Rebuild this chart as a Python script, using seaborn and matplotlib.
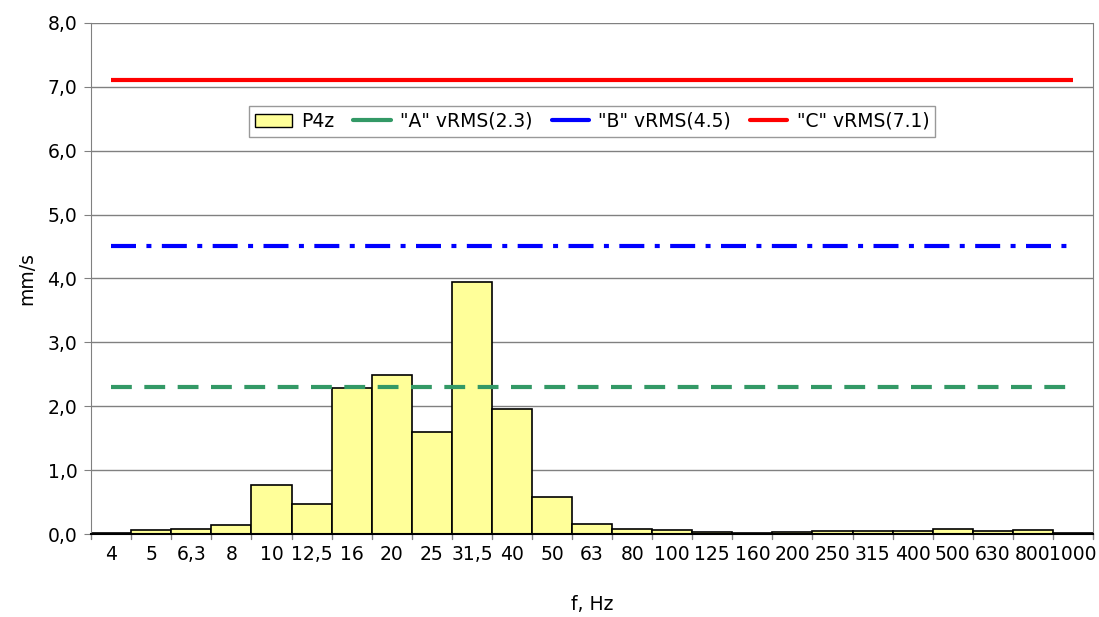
import matplotlib
matplotlib.use("Agg")
import matplotlib.pyplot as plt
import seaborn as sns
from matplotlib.patches import Patch
from matplotlib.lines import Line2D

# Dane
freqs = ["4", "5", "6,3", "8", "10", "12,5", "16", "20", "25", "31,5", "40", "50", "63",
         "80", "100", "125", "160", "200", "250", "315", "400", "500", "630", "800", "1000"]
p4z = [0.02, 0.07, 0.08, 0.14, 0.77, 0.47, 2.28, 2.49, 1.60, 3.94, 1.96, 0.58, 0.15,
       0.08, 0.06, 0.03, 0.01, 0.03, 0.04, 0.04, 0.04, 0.08, 0.04, 0.06, 0.01]
limit_names = ['"A" vRMS(2.3)', '"B" vRMS(4.5)', '"C" vRMS(7.1)']
limit_values = [2.3, 4.5, 7.1]
limit_colors = ["#339966", "#0000FF", "#FF0000"]
limit_styles = [(0, (5, 3)), (0, (6, 2.5, 1.2, 2.5)), "-"]

sns.set_style("white")
plt.rcParams["font.family"] = ["DejaVu Sans"]
plt.rcParams["text.color"] = "black"
plt.rcParams["axes.labelcolor"] = "black"
plt.rcParams["xtick.color"] = "black"
plt.rcParams["ytick.color"] = "black"

fig = plt.figure(figsize=(10.99, 6.17), dpi=100)
ax = fig.add_axes([0.083, 0.1345, 0.9115, 0.8285])

sns.barplot(x=freqs, y=p4z, order=freqs, color="#FFFF99", saturation=1, width=1,
            edgecolor="black", linewidth=1.2, ax=ax, zorder=2)

for v, c, ls in zip(limit_values, limit_colors, limit_styles):
    ax.hlines(v, 0, len(freqs) - 1, colors=c, linestyles=ls, linewidth=3, zorder=3)

ax.set_xlim(-0.5, len(freqs) - 0.5)
ax.set_ylim(0, 8)
ax.set_yticks(range(0, 9))
ax.set_yticklabels([f"{i},0" for i in range(0, 9)], fontsize=13.5)
ax.tick_params(axis="x", labelsize=13.5, length=0, pad=8)
ax.tick_params(axis="y", length=5, color="#808080", direction="out", left=True, pad=5)
ax.yaxis.grid(True, color="#808080", linewidth=1)
ax.set_axisbelow(True)

# podzialki miedzy kategoriami
for i in range(len(freqs) + 1):
    ax.plot([i - 0.5, i - 0.5], [0, -0.08], color="#808080", lw=1, clip_on=False)

for s in ["left", "right", "top"]:
    ax.spines[s].set_color("#808080")
ax.spines["top"].set_visible(False)
ax.spines["bottom"].set_color("black")
ax.spines["bottom"].set_linewidth(1.5)

ax.set_xlabel("f, Hz", fontsize=13.5, labelpad=22)
ax.set_ylabel("mm/s", fontsize=13.5, labelpad=8)

handles = [Patch(facecolor="#FFFF99", edgecolor="black", label="P4z")]
for n, c in zip(limit_names, limit_colors):
    handles.append(Line2D([0], [0], color=c, lw=3, label=n))
leg = ax.legend(handles=handles, loc="upper center", bbox_to_anchor=(0.5, 0.855), ncol=4,
                fontsize=13.5, frameon=True, fancybox=False, edgecolor="#808080",
                handlelength=2.0, columnspacing=1.0, handletextpad=0.5, borderpad=0.3)
leg.get_frame().set_linewidth(1)

fig.savefig("out.png", dpi=100)
